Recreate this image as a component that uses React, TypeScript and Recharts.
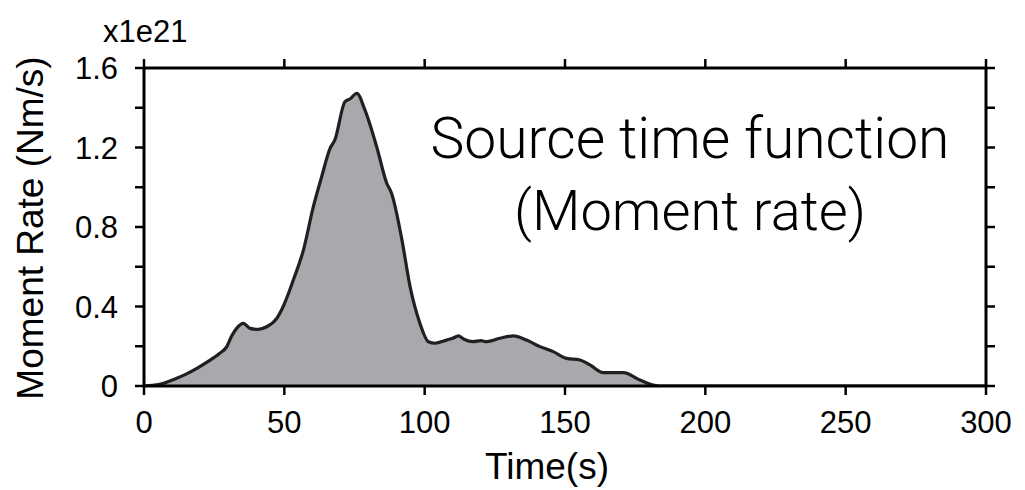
import React from "react";
import { AreaChart, Area, XAxis, YAxis } from "recharts";

// Source time function samples (time in s, moment rate in 1e21 Nm/s)
const times = [
  0, 3, 7, 11, 15, 19, 23, 27, 29.5, 31, 33, 35.4, 37.8, 40.7, 43.7, 47.3, 49.6,
  53.2, 56.8, 60.3, 63.3, 66.3, 68, 71.6, 73.5, 75.8, 78.7, 82.9, 86.5, 88.2,
  91.8, 94.8, 98.3, 101.3, 103.7, 107.8, 110, 112, 114, 117.3, 120, 122.1,
  126.8, 131.6, 136.3, 141.1, 145.8, 150.6, 155.3, 158.9, 163.6, 170.8, 176.7,
  181.4, 184, 300,
];
const rates = [
  0, 0.003, 0.014, 0.035, 0.06, 0.09, 0.125, 0.165, 0.198, 0.245, 0.29, 0.315,
  0.29, 0.285, 0.298, 0.34, 0.4, 0.533, 0.684, 0.9, 1.053, 1.196, 1.238, 1.43,
  1.445, 1.473, 1.389, 1.204, 1.02, 0.97, 0.743, 0.5, 0.316, 0.223, 0.215,
  0.231, 0.24, 0.252, 0.235, 0.223, 0.228, 0.223, 0.24, 0.252, 0.231, 0.198,
  0.173, 0.139, 0.131, 0.106, 0.067, 0.067, 0.03, 0.005, 0, 0,
];

const xTicks = [0, 50, 100, 150, 200, 250, 300];
const yTicks = [0, 0.2, 0.4, 0.6, 0.8, 1.0, 1.2, 1.4, 1.6];
const yTickLabels = ["0", "", "0.4", "", "0.8", "", "1.2", "", "1.6"];

const titleLines = ["Source time function", "(Moment rate)"];
const xLabel = "Time(s)";
const yLabel = "Moment Rate (Nm/s)";
const yScaleNote = "x1e21";

const chartData = times.map((t, i) => ({ t, rate: rates[i] }));

const font = "'Liberation Sans', Arial, Helvetica, sans-serif";
const axisLine = { stroke: "#000", strokeWidth: 3 };
const tickLine = { stroke: "#000", strokeWidth: 2.5 };
const tickStyle = { fontSize: 31, fill: "#000", fontFamily: font };

export default function App() {
  return (
    <div style={{ position: "absolute", left: 0, top: 0, width: 1025, height: 490, background: "#fff" }}>
      <AreaChart width={1025} height={490} data={chartData} margin={{ top: 58, right: 29, bottom: 0, left: 0 }}>
        <XAxis
          xAxisId="bottom"
          type="number"
          dataKey="t"
          domain={[0, 300]}
          ticks={xTicks}
          allowDataOverflow
          height={104}
          axisLine={axisLine}
          tickLine={tickLine}
          tickSize={9}
          tickMargin={16}
          tick={tickStyle}
          interval={0}
        />
        <XAxis
          xAxisId="top"
          orientation="top"
          type="number"
          dataKey="t"
          domain={[0, 300]}
          ticks={xTicks}
          allowDataOverflow
          height={10}
          axisLine={axisLine}
          tickLine={tickLine}
          tickSize={9}
          tickFormatter={() => ""}
          interval={0}
        />
        <YAxis
          yAxisId="left"
          type="number"
          domain={[0, 1.6]}
          ticks={yTicks}
          allowDataOverflow
          width={144}
          axisLine={axisLine}
          tickLine={tickLine}
          tickSize={9}
          tickMargin={17}
          tick={tickStyle}
          tickFormatter={(_v: number, i: number) => yTickLabels[i]}
          interval={0}
        />
        <YAxis
          yAxisId="right"
          orientation="right"
          type="number"
          domain={[0, 1.6]}
          ticks={yTicks}
          allowDataOverflow
          width={10}
          axisLine={axisLine}
          tickLine={tickLine}
          tickSize={9}
          tickFormatter={() => ""}
          interval={0}
        />
        <Area
          xAxisId="bottom"
          yAxisId="left"
          type="monotone"
          dataKey="rate"
          stroke="#231f20"
          strokeWidth={3.2}
          fill="#a7a9ac"
          fillOpacity={1}
          isAnimationActive={false}
          dot={false}
          activeDot={false}
        />
      </AreaChart>
      <svg
        width={1025}
        height={490}
        style={{ position: "absolute", left: 0, top: 0, pointerEvents: "none" }}
        fontFamily={font}
      >
        <text x={103} y={42} fontSize={31} fill="#000">{yScaleNote}</text>
        <text x={547} y={479} fontSize={37} fill="#000" textAnchor="middle">{xLabel}</text>
        <text x={43} y={228} fontSize={37} fill="#000" textAnchor="middle" transform="rotate(-90 43 228)">
          {yLabel}
        </text>
        <text x={690} y={158} fontSize={57} fill="#000" textAnchor="middle" fontFamily="Roboto" fontWeight={300}>
          {titleLines[0]}
        </text>
        <text x={690} y={230} fontSize={56} fill="#000" textAnchor="middle" fontFamily="Roboto" fontWeight={300}>
          {titleLines[1]}
        </text>
      </svg>
    </div>
  );
}
